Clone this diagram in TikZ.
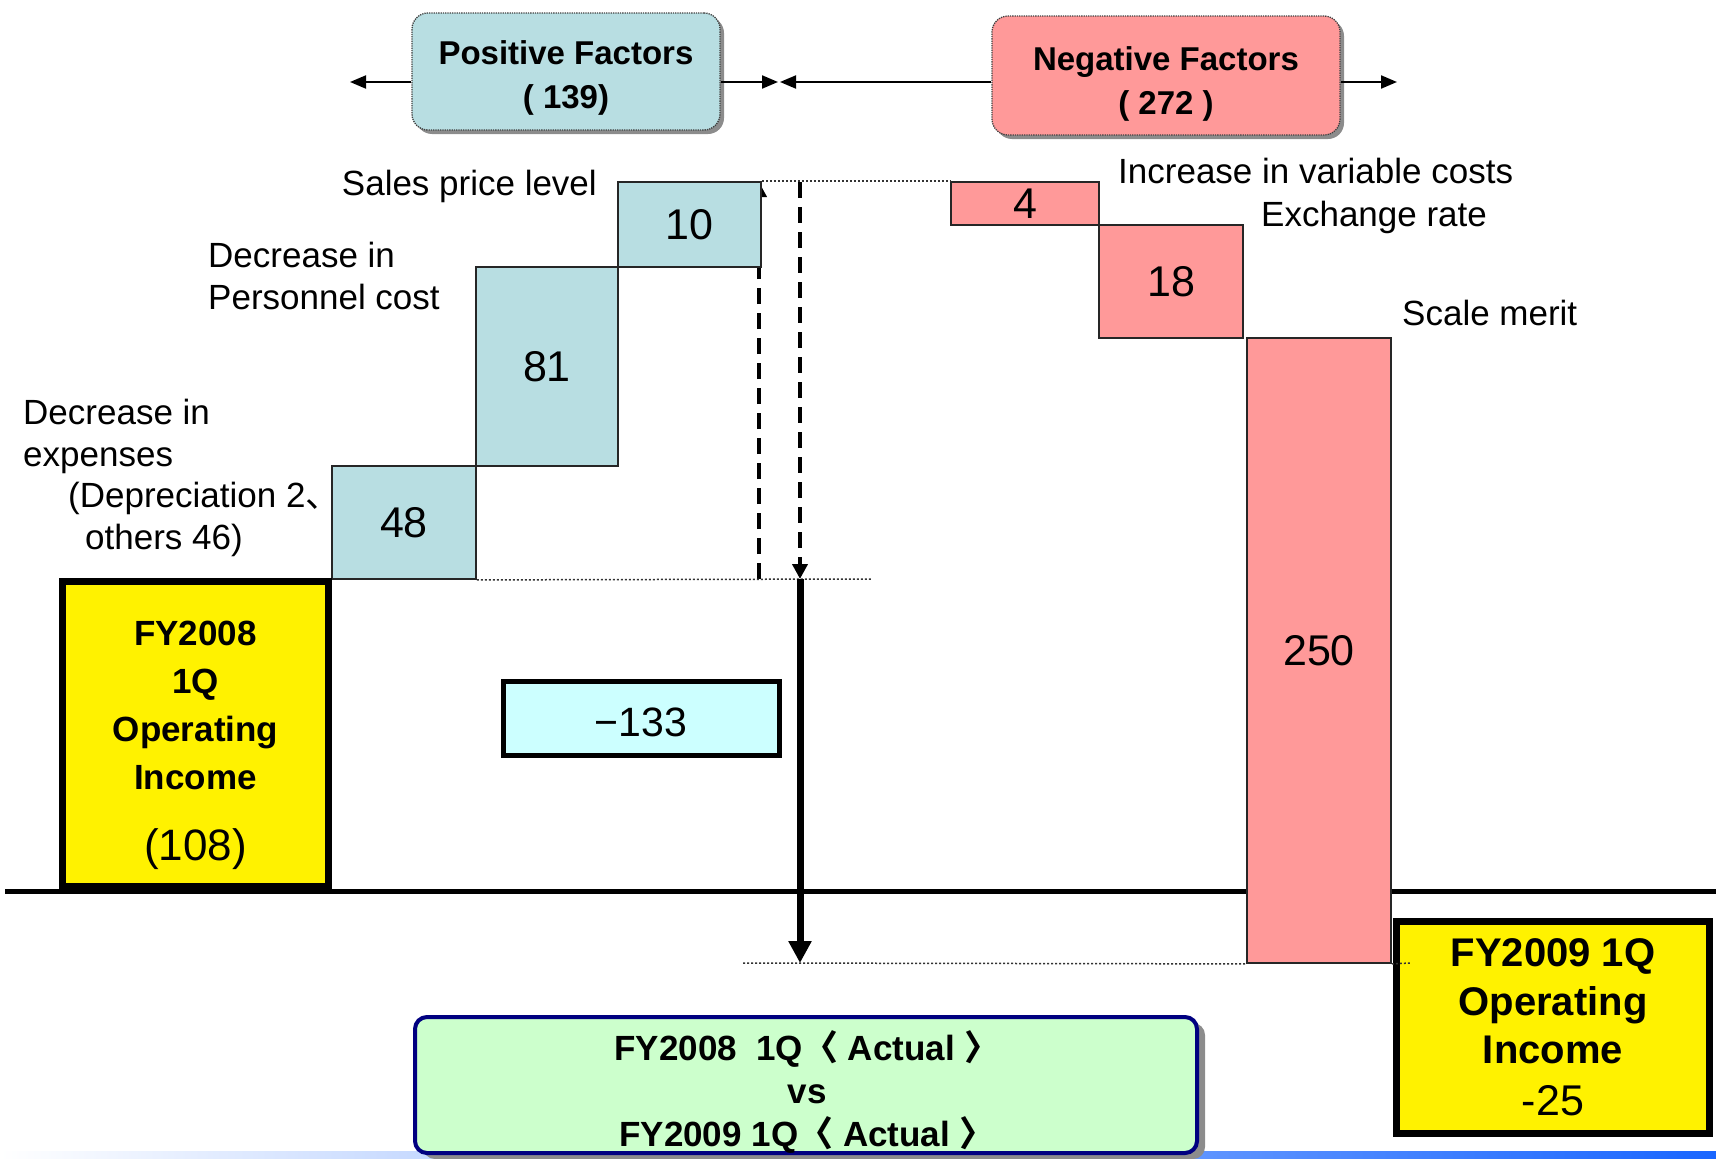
\documentclass[tikz,border=0pt]{standalone}
\usepackage{fontspec}
\setmainfont{Liberation Sans}
\newfontfamily\cjk{Noto Sans CJK JP}
\usetikzlibrary{arrows.meta,shadows,backgrounds}

\definecolor{posfill}{RGB}{184,222,226}
\definecolor{negfill}{RGB}{255,153,153}
\definecolor{cmpfill}{RGB}{204,255,204}
\definecolor{cmpdraw}{RGB}{0,0,128}
\definecolor{netfill}{RGB}{204,255,255}
\definecolor{gradblue}{RGB}{25,102,255}

\newcommand\fsLabel{\fontsize{35}{41.5}\selectfont}
\newcommand\fsNum{\fontsize{43}{50}\selectfont}
\newcommand\fsHead{\fontsize{33}{44}\selectfont\bfseries}

\begin{document}
\begin{tikzpicture}[x=1pt,y=-1pt,
  bar/.style={draw=black!85, line width=1.8pt, inner sep=0pt, font=\fsNum},
  posbar/.style={bar, fill=posfill},
  negbar/.style={bar, fill=negfill},
  factorbox/.style={rounded corners=16pt, draw=black!75, densely dotted, line width=1.3pt, inner sep=0pt,
     drop shadow={shadow xshift=4pt, shadow yshift=-4pt, fill=black!45, opacity=1}},
  headtext/.style={font=\fsHead, align=center, inner sep=0pt},
  yellowbox/.style={draw=black, fill=yellow, line width=7pt, inner sep=0pt},
  lbltext/.style={font=\fsLabel, inner sep=0pt},
  headarrow/.style={line width=2pt, -{Triangle[length=16pt,width=13pt]}},
  guide/.style={draw=black!80, line width=1.5pt, dash pattern=on 2pt off 2pt},
  dasharrow/.style={line width=4pt, dash pattern=on 16pt off 9pt, -{Triangle[length=15pt,width=15pt]}},
  flowarrow/.style={line width=7pt, -{Triangle[length=22pt,width=22pt]}}
]
\useasboundingbox (0,0) rectangle (1716,1159);

% bottom gradient strip
\shade[left color=white, right color=gradblue] (0,1151) rectangle (1716,1159);

% zero line
\coordinate (bl0) at (5,891);
\coordinate (bl1) at (1716,891);
\draw[line width=5pt] (bl0) -- (bl1);

% waterfall bars
\node[posbar, minimum width=144pt, minimum height=113pt] (b48) at (404,522.5) {48};
\node[posbar, minimum width=142pt, minimum height=199pt] (b81) at (547,366.5) {81};
\node[posbar, minimum width=143pt, minimum height=85pt] (b10) at (689.5,224.5) {10};
\node[negbar, minimum width=148pt, minimum height=43pt] (n4) at (1025,203.5) {4};
\node[negbar, minimum width=144pt, minimum height=113pt] (n18) at (1171,281.5) {18};
\node[negbar, minimum width=144pt, minimum height=625pt] (n250) at (1319,650.5) {250};

% dashed arrows
\coordinate (d1b) at (759,579);
\coordinate (d1t) at (759,182);
\coordinate (d2t) at (800,182);
\coordinate (d2b) at (800,579);
\coordinate (endpt) at (800,963);
\begin{scope}[on background layer]
\draw[dasharrow] (d1b) -- (d1t);
\end{scope}
\draw[dasharrow] (d2t) -- (d2b);

% factor boxes
\node[factorbox, fill=posfill, minimum width=308pt, minimum height=117pt] (pos) at (566,71.5) {};
\node[headtext] (post) at (566,77.5) {Positive Factors\\( 139)};
\node[factorbox, fill=negfill, minimum width=348pt, minimum height=119pt] (neg) at (1166,75.5) {};
\node[headtext] (negt) at (1166,84) {Negative Factors\\( 272 )};

\coordinate (aL) at (350,82);
\coordinate (aM1) at (778,82);
\coordinate (aM2) at (780,82);
\coordinate (aR) at (1397,82);
\draw[headarrow] (aL -| pos.west) -- (aL);
\draw[headarrow] (aM1 -| pos.east) -- (aM1);
\draw[headarrow] (aM2 -| neg.west) -- (aM2);
\draw[headarrow] (aR -| neg.east) -- (aR);

% yellow boxes
\node[yellowbox, minimum width=266pt, minimum height=305pt] (fy08) at (195.5,734) {};
\node[align=center, inner sep=0pt, font=\fontsize{35}{48}\selectfont\bfseries] (fy08t) at (195.5,745)
  {FY2008\\1Q\\Operating\\Income\\[23pt]{\mdseries\fontsize{44}{48}\selectfont(108)}};
\node[yellowbox, minimum width=313pt, minimum height=212pt] (fy09) at (1553,1027.5) {};
\node[align=center, inner sep=0pt, font=\fontsize{40}{48.5}\selectfont\bfseries] (fy09t) at (1553,1027)
  {FY2009 1Q\\Operating\\Income\\[3pt]{\mdseries\fontsize{43}{48}\selectfont -25}};

% net change box
\node[draw, line width=5pt, fill=netfill, minimum width=276pt, minimum height=74pt, inner sep=0pt,
      text height=37pt, text depth=0pt, font=\fontsize{41}{48}\selectfont] (net) at (641,718) {−133};

% comparison box
\node[draw=cmpdraw, line width=4pt, fill=cmpfill, rounded corners=12pt, minimum width=782pt, minimum height=136pt,
      drop shadow={shadow xshift=8pt, shadow yshift=-6pt, fill=black!45, opacity=1}] (cmp) at (806,1085) {};
\node[align=center, inner sep=0pt, font=\fontsize{35}{43}\selectfont\bfseries] (cmpt) at (807,1092)
  {FY2008\ \ 1Q{\cjk 〈} Actual {\cjk 〉}\\vs\\FY2009 1Q{\cjk 〈} Actual {\cjk 〉}};

% dotted guides
\coordinate (g1) at (872,579);
\coordinate (g3a) at (743,963);
\coordinate (g3b) at (1410,963);
\draw[guide] (b48.south east) -- (g1);
\draw[guide] (b10.north east) -- (n4.north west);
\draw[guide] (g3a) -- (n250.south west);
\draw[guide] (n250.south east) -- (g3b);

% net change arrow
\draw[flowarrow] (d2b) -- (endpt);

% labels
\node[lbltext, anchor=base east] (lsales) at (597,195) {Sales price level};
\node[lbltext, align=left, anchor=west] (lpers) at (208,276) {Decrease in\\Personnel cost};
\node[lbltext, align=left, anchor=west] (lexp) at (23,478)
  {Decrease in\\expenses\\\hspace*{45pt}(Depreciation 2{\cjk 、}\\\hspace*{62pt}others 46)};
\node[lbltext, anchor=base west] (lvar) at (1118,183) {Increase in variable costs};
\node[lbltext, anchor=base west] (lfx) at (1261,226) {Exchange rate};
\node[lbltext, anchor=base west] (lscale) at (1402,325) {Scale merit};
\end{tikzpicture}
\end{document}
